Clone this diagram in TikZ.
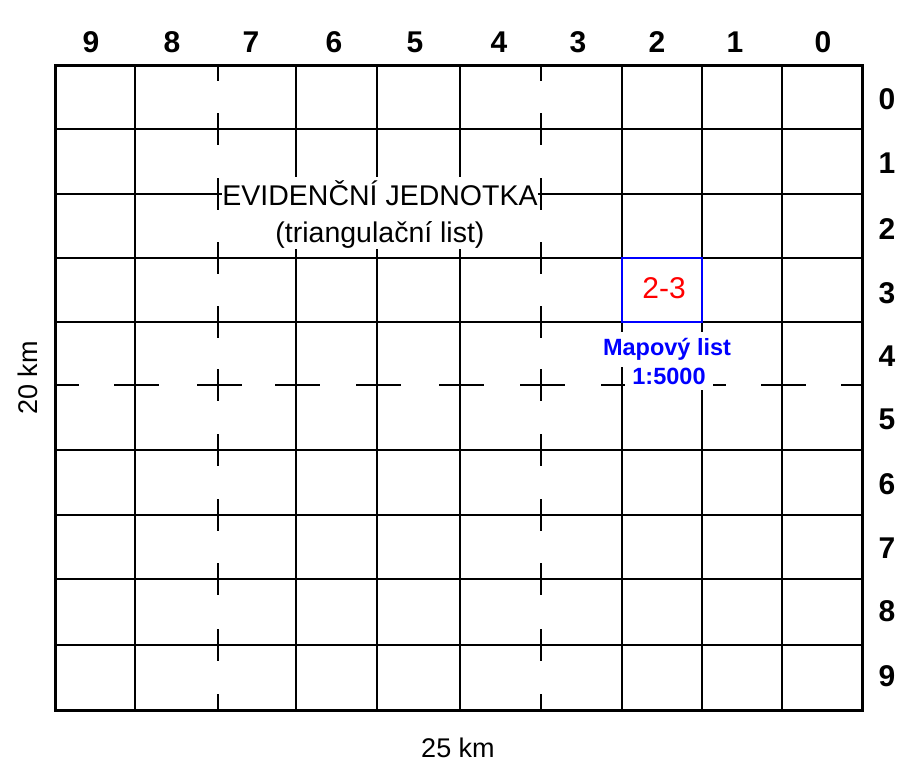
\documentclass[tikz,border=0pt]{standalone}
\usepackage{fontspec}
\setmainfont{Liberation Sans}
\begin{document}
\begin{tikzpicture}[x=1pt,y=-1pt,
  gridline/.style={line width=2.5pt,black},
  borderline/.style={line width=3pt,black},
  idxlabel/.style={font=\fontsize{30}{32}\selectfont\bfseries,inner sep=0pt},
  kmlabel/.style={font=\fontsize{27}{30}\selectfont,inner sep=0pt},
  evidtext/.style={font=\fontsize{28.5}{30}\selectfont,fill=white,inner xsep=0pt,
    minimum width=316pt,text height=21pt},
  bluetext/.style={font=\fontsize{23.5}{26}\selectfont\bfseries,text=blue,fill=white,
    text height=17pt,text depth=5pt}
]
\useasboundingbox (0,0) rectangle (909,782);
\fill[white] (0,0) rectangle (909,782);

% solid grid lines
\foreach \x in {135,296,377,460,622,702,782}
  \draw[gridline] (\x,65) -- (\x,710);
\foreach \y in {129,194,258,322,450,515,579,645}
  \draw[gridline] (55,\y) -- (862,\y);

% broken (dashed) lines
\begin{scope}
  \clip (55,65) rectangle (862,710);
  \foreach \x in {218,541}
    \foreach \y in {65,129,194,258,322,385,450,515,579,645,710}
      \draw[gridline] (\x,\y-16) -- (\x,\y+16);
  \foreach \x in {55,135,218,296,377,460,541,622,702,782,862}
    \draw[gridline] (\x-21,385) -- (\x+24,385);
\end{scope}

% border
\draw[borderline] (55,65) rectangle (862,710);

% column labels
\foreach \t/\x in {9/91,8/172,7/251,6/334,5/415,4/499,3/578,2/657,1/735,0/823}
  \node[idxlabel] (col\t) at (\x,42) {\t};
% row labels
\foreach \t/\y in {0/99,1/163,2/229,3/293,4/356,5/419,6/484,7/548,8/611,9/676}
  \node[idxlabel] (row\t) at (887,\y) {\t};

% dimensions
\node[kmlabel,rotate=90] (height) at (28,378) {20 km};
\node[kmlabel] (width) at (458,748) {25 km};

% evidence unit label
\node[evidtext,anchor=base,text depth=6pt,inner ysep=7pt] (evid) at (380,205) {EVIDENČNÍ JEDNOTKA};
\node[evidtext,anchor=base,text depth=4pt,inner ysep=3pt] (trig) at (380,242) {(triangulační list)};

% map sheet
\node[draw=blue,line width=2.5pt,minimum width=80pt,minimum height=64pt,inner sep=0pt] (sheet) at (662,290) {};
\node[font=\fontsize{30}{32}\selectfont,text=red,inner sep=0pt] (sheetno) at (664,288) {2-3};
\node[bluetext,anchor=base,inner ysep=6.5pt,inner xsep=4pt] (mapov) at (667,355) {Mapový list};
\node[bluetext,anchor=base,inner ysep=0.5pt,inner xsep=7pt] (scale) at (669,384) {1:5000};
\end{tikzpicture}
\end{document}
